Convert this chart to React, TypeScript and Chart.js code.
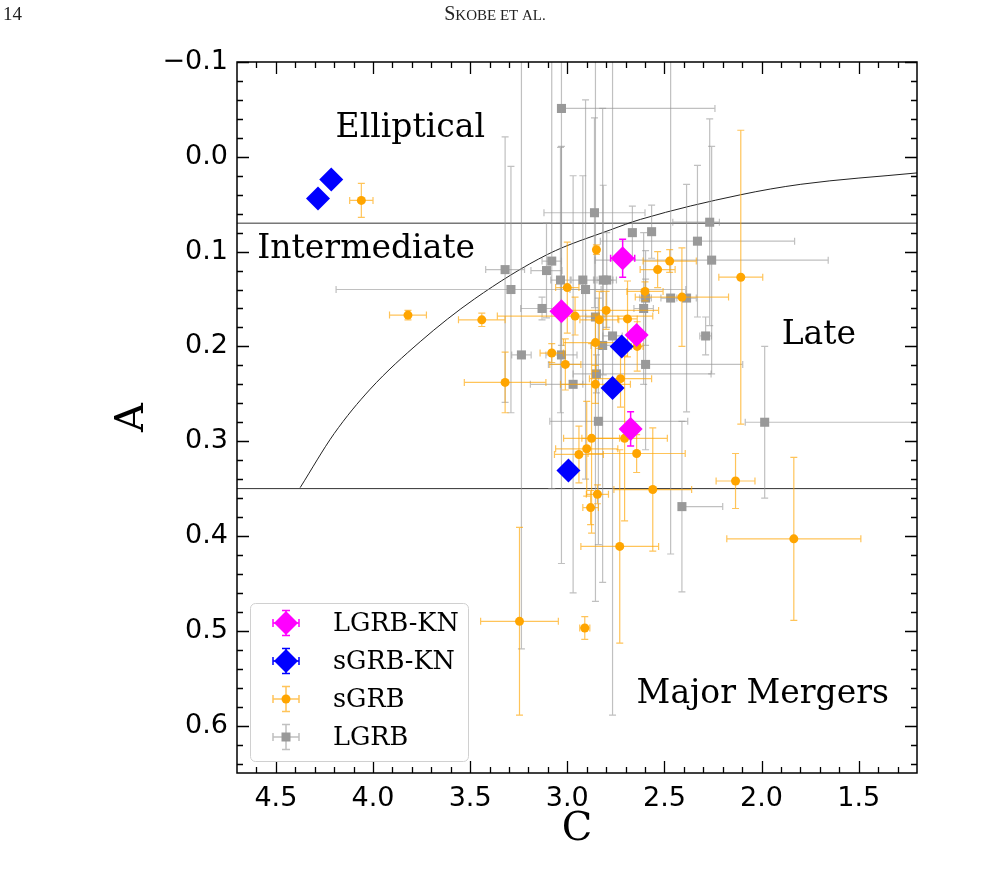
import React, { useEffect, useRef } from 'react';
import { Chart, registerables } from 'chart.js';
Chart.register(...registerables);

type Err = number | [number, number]; // [toward lower value, toward higher value]

// ---------- axis ticks ----------
const xTicks = [4.5, 4.0, 3.5, 3.0, 2.5, 2.0, 1.5];
const xTickLabels = ['4.5', '4.0', '3.5', '3.0', '2.5', '2.0', '1.5'];
const xMinorTicks = [4.6, 4.4, 4.3, 4.2, 4.1, 3.9, 3.8, 3.7, 3.6, 3.4, 3.3, 3.2, 3.1, 2.9, 2.8, 2.7, 2.6, 2.4, 2.3, 2.2, 2.1, 1.9, 1.8, 1.7, 1.6, 1.4, 1.3];
const yTicks = [-0.1, 0.0, 0.1, 0.2, 0.3, 0.4, 0.5, 0.6];
const yTickLabels = ['\u22120.1', '0.0', '0.1', '0.2', '0.3', '0.4', '0.5', '0.6'];
const yMinorTicks = [-0.08, -0.06, -0.04, -0.02, 0.02, 0.04, 0.06, 0.08, 0.12, 0.14, 0.16, 0.18, 0.22, 0.24, 0.26, 0.28, 0.32, 0.34, 0.36, 0.38, 0.42, 0.44, 0.46, 0.48, 0.52, 0.54, 0.56, 0.58, 0.62, 0.64];

// ---------- dividing lines ----------
const curveC = [4.375, 4.2, 4.014, 3.757, 3.478, 3.102, 2.777, 2.623, 2.107, 1.798, 1.2];
const curveA = [0.349, 0.292, 0.245, 0.195, 0.150, 0.103, 0.077, 0.066, 0.040, 0.029, 0.017];
const lineIntermediateA = 0.07;
const lineMergerA = 0.35;

// ---------- LGRB-KN ----------
const lgrbKnC = [2.715, 3.03, 2.643, 2.674];
const lgrbKnA = [0.107, 0.163, 0.188, 0.287];
const lgrbKnCerr: Err[] = [0.062, 0.02, 0.02, 0.02];
const lgrbKnAerr: Err[] = [0.02, 0.005, 0.005, 0.018];

// ---------- sGRB-KN ----------
const sgrbKnC = [4.283, 4.215, 2.72, 2.767, 2.994];
const sgrbKnA = [0.044, 0.024, 0.2, 0.244, 0.331];
const sgrbKnCerr: Err[] = [0.02, 0.02, 0.02, 0.02, 0.02];
const sgrbKnAerr: Err[] = [0.005, 0.005, 0.005, 0.005, 0.005];

// ---------- sGRB ----------
const sgrbC = [4.06, 3.82, 3.44, 3.32, 3.08, 3.01, 3.0, 2.96, 2.855, 2.85, 2.80, 2.835, 2.69, 2.726, 2.855, 2.875, 2.9, 2.94, 2.705, 2.643, 2.845, 2.88, 2.473, 2.535, 2.107, 2.6, 2.41, 2.134, 2.56, 1.834, 2.73, 3.246, 2.91, 2.64];
const sgrbA = [0.046, 0.167, 0.172, 0.238, 0.207, 0.219, 0.138, 0.168, 0.196, 0.098, 0.162, 0.172, 0.171, 0.234, 0.24, 0.297, 0.308, 0.314, 0.297, 0.313, 0.356, 0.37, 0.110, 0.119, 0.127, 0.142, 0.148, 0.342, 0.351, 0.403, 0.411, 0.49, 0.497, 0.2];
const sgrbCerr: Err[] = [0.06, 0.095, 0.12, 0.21, 0.06, 0.08, 0.06, 0.4, 0.165, 0.01, 0.27, 0.1, 0.05, 0.16, 0.18, 0.144, 0.16, 0.126, 0.22, 0.25, 0.057, 0.04, 0.137, 0.09, 0.113, 0.093, 0.24, 0.1, 0.2, 0.345, 0.2, 0.2, 0.026, 0.03];
const sgrbAerr: Err[] = [0.018, 0.005, 0.007, 0.032, 0.01, 0.027, 0.048, 0.02, 0.03, 0.005, 0.02, 0.03, 0.04, 0.03, 0.02, 0.1, 0.05, 0.03, 0.087, 0.02, 0.01, 0.018, 0.012, 0.019, 0.155, 0.01, 0.052, 0.029, 0.065, 0.086, 0.102, 0.099, 0.012, 0.026];

// ---------- LGRB ----------
const lgrbC = [3.03, 2.86, 2.665, 2.566, 2.267, 2.33, 2.257, 3.32, 3.29, 3.08, 3.107, 3.035, 2.92, 2.906, 2.815, 2.797, 3.13, 2.855, 2.767, 2.818, 3.236, 3.03, 2.85, 2.97, 2.84, 2.597, 2.468, 2.386, 2.607, 2.288, 2.597, 1.984, 2.41];
const lgrbA = [-0.051, 0.059, 0.080, 0.079, 0.069, 0.089, 0.109, 0.119, 0.14, 0.11, 0.12, 0.13, 0.13, 0.14, 0.13, 0.13, 0.16, 0.169, 0.189, 0.199, 0.209, 0.209, 0.229, 0.24, 0.279, 0.149, 0.149, 0.149, 0.16, 0.189, 0.219, 0.28, 0.369];
const lgrbCerr: Err[] = [[0.79, 0], 0.26, 0.015, 0.015, [0.05, 0.19], 0.5, 0.6, 0.1, 0.9, 0.05, 0.08, 0.05, 0.06, 0.08, 0.05, 0.05, 0.11, 0.05, 0.05, 0.06, 0.05, 0.08, [0.59, 0.12], [0.05, 0.22], [0.46, 0.25], 0.03, 0.05, 0.05, 0.05, 0.03, 0.5, [0.8, 0.1], [0.21, 0]];
const lgrbAerr: Err[] = [0.25, 0.1, 0.028, 0.028, 0.109, 0.08, 0.12, 0.14, 0.13, 0.24, 0.05, 0.14, 0.11, 0.2, 0.1, 0.05, 0.012, 0.3, 0.4, 0.25, 0.31, 0.22, 0.02, 0.22, 0.13, 0.05, 0.27, 0.12, 0.08, 0.02, 0.09, 0.08, 0.09];

// ---------- region labels ----------
const regionLabels = ['Elliptical', 'Intermediate', 'Late', 'Major Mergers'];
const regionC = [3.808, 4.035, 1.705, 1.994];
const regionA = [-0.030, 0.098, 0.188, 0.567];

const legendLabels = ['LGRB-KN', 'sGRB-KN', 'sGRB', 'LGRB'];

const MAGENTA = '#ff00ff';
const BLUE = '#0000ff';
const ORANGE = '#ffa500';
const ORANGE_ERR = 'rgba(255,165,0,0.65)';
const GREY = '#999999';
const GREY_ERR = 'rgba(150,150,150,0.6)';

const pts = (xs: number[], ys: number[]) => xs.map((x, i) => ({ x, y: ys[i] }));
const split = (e: Err): [number, number] => (Array.isArray(e) ? e : [e, e]);

const errorBarPlugin = {
  id: 'errorBars',
  beforeDatasetDraw(chart: any, args: any) {
    const ds = chart.data.datasets[args.index];
    if (!ds.errC) return;
    const { ctx, chartArea } = chart;
    const xs = chart.scales.x;
    const ys = chart.scales.y;
    ctx.save();
    ctx.beginPath();
    ctx.rect(chartArea.left, chartArea.top, chartArea.right - chartArea.left, chartArea.bottom - chartArea.top);
    ctx.clip();
    ctx.strokeStyle = ds.errColor;
    ctx.lineWidth = ds.errWidth;
    const cap = 3.5;
    ds.data.forEach((p: any, i: number) => {
      const [cm, cp] = split(ds.errC[i]);
      const [am, ap] = split(ds.errA[i]);
      const px = xs.getPixelForValue(p.x);
      const py = ys.getPixelForValue(p.y);
      const xl = xs.getPixelForValue(p.x + cp);
      const xr = xs.getPixelForValue(p.x - cm);
      const yt = ys.getPixelForValue(p.y - am);
      const yb = ys.getPixelForValue(p.y + ap);
      ctx.beginPath();
      ctx.moveTo(xl, py); ctx.lineTo(xr, py);
      ctx.moveTo(px, yt); ctx.lineTo(px, yb);
      if (cp > 0) { ctx.moveTo(xl, py - cap); ctx.lineTo(xl, py + cap); }
      if (cm > 0) { ctx.moveTo(xr, py - cap); ctx.lineTo(xr, py + cap); }
      if (am > 0) { ctx.moveTo(px - cap, yt); ctx.lineTo(px + cap, yt); }
      if (ap > 0) { ctx.moveTo(px - cap, yb); ctx.lineTo(px + cap, yb); }
      ctx.stroke();
    });
    ctx.restore();
  },
};

const decorPlugin = {
  id: 'decor',
  afterDatasetsDraw(chart: any) {
    const { ctx } = chart;
    const xs = chart.scales.x;
    const ys = chart.scales.y;
    ctx.save();
    ctx.fillStyle = '#000';
    ctx.font = '33px "DejaVu Serif"';
    ctx.textAlign = 'center';
    ctx.textBaseline = 'middle';
    regionLabels.forEach((t, i) => {
      ctx.fillText(t, xs.getPixelForValue(regionC[i]), ys.getPixelForValue(regionA[i]));
    });
    ctx.restore();
  },
  afterDraw(chart: any) {
    const { ctx, chartArea } = chart;
    const { left, right, top, bottom } = chartArea;
    const xs = chart.scales.x;
    const ys = chart.scales.y;
    ctx.save();
    ctx.strokeStyle = '#000';
    ctx.lineWidth = 1.3;
    ctx.beginPath();
    const majorLen = 12, minorLen = 6;
    xTicks.forEach(v => {
      const p = Math.round(xs.getPixelForValue(v)) + 0.5;
      ctx.moveTo(p, bottom); ctx.lineTo(p, bottom - majorLen);
      ctx.moveTo(p, top); ctx.lineTo(p, top + majorLen);
    });
    xMinorTicks.forEach(v => {
      const p = Math.round(xs.getPixelForValue(v)) + 0.5;
      ctx.moveTo(p, bottom); ctx.lineTo(p, bottom - minorLen);
      ctx.moveTo(p, top); ctx.lineTo(p, top + minorLen);
    });
    yTicks.forEach(v => {
      const p = Math.round(ys.getPixelForValue(v)) + 0.5;
      ctx.moveTo(left, p); ctx.lineTo(left + majorLen, p);
      ctx.moveTo(right, p); ctx.lineTo(right - majorLen, p);
    });
    yMinorTicks.forEach(v => {
      const p = Math.round(ys.getPixelForValue(v)) + 0.5;
      ctx.moveTo(left, p); ctx.lineTo(left + minorLen, p);
      ctx.moveTo(right, p); ctx.lineTo(right - minorLen, p);
    });
    ctx.stroke();
    ctx.lineWidth = 1.5;
    ctx.strokeRect(left, top, right - left, bottom - top);

    // axis titles
    ctx.fillStyle = '#000';
    ctx.font = '40px "DejaVu Serif"';
    ctx.textAlign = 'center';
    ctx.textBaseline = 'middle';
    ctx.fillText('C', (left + right) / 2, 830);
    ctx.save();
    ctx.translate(133, (top + bottom) / 2);
    ctx.rotate(-Math.PI / 2);
    ctx.fillText('A', 0, 0);
    ctx.restore();

    // legend
    const lx = 250, ly = 603, lw = 218, lh = 158;
    ctx.save();
    ctx.fillStyle = 'rgba(255,255,255,0.8)';
    ctx.strokeStyle = '#d0d0d0';
    ctx.lineWidth = 1;
    ctx.beginPath();
    ctx.roundRect(lx + 0.5, ly + 0.5, lw, lh, 5);
    ctx.fill();
    ctx.stroke();
    ctx.restore();
    const rowY = [623, 661, 699, 737];
    const mx = 286;
    const styles = [
      { err: MAGENTA, fill: MAGENTA, shape: 'diamond' },
      { err: BLUE, fill: BLUE, shape: 'diamond' },
      { err: ORANGE_ERR, fill: ORANGE, shape: 'circle' },
      { err: GREY_ERR, fill: GREY, shape: 'square' },
    ];
    styles.forEach((s, i) => {
      const y = rowY[i];
      ctx.strokeStyle = s.err;
      ctx.lineWidth = 1.5;
      ctx.beginPath();
      ctx.moveTo(mx - 13, y); ctx.lineTo(mx + 13, y);
      ctx.moveTo(mx, y - 12.5); ctx.lineTo(mx, y + 12.5);
      ctx.moveTo(mx - 13, y - 4); ctx.lineTo(mx - 13, y + 4);
      ctx.moveTo(mx + 13, y - 4); ctx.lineTo(mx + 13, y + 4);
      ctx.moveTo(mx - 4, y - 12.5); ctx.lineTo(mx + 4, y - 12.5);
      ctx.moveTo(mx - 4, y + 12.5); ctx.lineTo(mx + 4, y + 12.5);
      ctx.stroke();
      ctx.fillStyle = s.fill;
      ctx.beginPath();
      if (s.shape === 'diamond') {
        ctx.moveTo(mx, y - 12); ctx.lineTo(mx + 12, y); ctx.lineTo(mx, y + 12); ctx.lineTo(mx - 12, y); ctx.closePath();
      } else if (s.shape === 'circle') {
        ctx.arc(mx, y, 4.5, 0, Math.PI * 2);
      } else {
        ctx.rect(mx - 4.5, y - 4.5, 9, 9);
      }
      ctx.fill();
      ctx.fillStyle = '#000';
      ctx.font = '25.5px "DejaVu Serif"';
      ctx.textAlign = 'left';
      ctx.textBaseline = 'middle';
      ctx.fillText(legendLabels[i], 333, y + 1);
    });

    // page header
    ctx.fillStyle = '#222';
    ctx.textBaseline = 'alphabetic';
    ctx.textAlign = 'left';
    ctx.font = '19px "Liberation Serif"';
    ctx.fillText('14', 3, 20);
    const big = 'S', small = 'KOBE ET AL.';
    ctx.font = '20px "Liberation Serif"';
    const wb = ctx.measureText(big).width;
    ctx.font = '15px "Liberation Serif"';
    const ws = ctx.measureText(small).width;
    const sx = 495 - (wb + ws) / 2;
    ctx.font = '20px "Liberation Serif"';
    ctx.fillText(big, sx, 20);
    ctx.font = '15px "Liberation Serif"';
    ctx.fillText(small, sx + wb, 20);
    ctx.restore();
  },
};

export default function App() {
  const ref = useRef<HTMLCanvasElement | null>(null);
  useEffect(() => {
    document.body.style.margin = '0';
    const canvas = ref.current;
    if (!canvas) return;
    const chart = new Chart(canvas, {
      type: 'scatter',
      data: {
        datasets: [
          {
            label: 'sGRB-KN',
            data: pts(sgrbKnC, sgrbKnA),
            pointStyle: 'rectRot',
            pointRadius: 12,
            backgroundColor: BLUE,
            borderColor: BLUE,
            borderWidth: 0,
            errC: sgrbKnCerr, errA: sgrbKnAerr, errColor: BLUE, errWidth: 1.5,
          } as any,
          {
            label: 'LGRB-KN',
            data: pts(lgrbKnC, lgrbKnA),
            pointStyle: 'rectRot',
            pointRadius: 12,
            backgroundColor: MAGENTA,
            borderColor: MAGENTA,
            borderWidth: 0,
            errC: lgrbKnCerr, errA: lgrbKnAerr, errColor: MAGENTA, errWidth: 1.5,
          } as any,
          {
            label: 'sGRB',
            data: pts(sgrbC, sgrbA),
            pointStyle: 'circle',
            pointRadius: 4.5,
            backgroundColor: ORANGE,
            borderColor: ORANGE,
            borderWidth: 0,
            errC: sgrbCerr, errA: sgrbAerr, errColor: ORANGE_ERR, errWidth: 1.2,
          } as any,
          {
            label: 'LGRB',
            data: pts(lgrbC, lgrbA),
            pointStyle: 'rect',
            pointRadius: 6.4,
            backgroundColor: GREY,
            borderColor: GREY,
            borderWidth: 0,
            errC: lgrbCerr, errA: lgrbAerr, errColor: GREY_ERR, errWidth: 1.2,
          } as any,
          {
            type: 'line',
            label: 'curve',
            data: pts(curveC, curveA),
            borderColor: '#222',
            borderWidth: 1,
            pointRadius: 0,
            cubicInterpolationMode: 'monotone',
            fill: false,
          } as any,
          {
            type: 'line',
            label: 'A=0.07',
            data: [{ x: 4.7, y: lineIntermediateA }, { x: 1.2, y: lineIntermediateA }],
            borderColor: '#333',
            borderWidth: 1,
            pointRadius: 0,
          } as any,
          {
            type: 'line',
            label: 'A=0.35',
            data: [{ x: 4.7, y: lineMergerA }, { x: 1.2, y: lineMergerA }],
            borderColor: '#333',
            borderWidth: 1,
            pointRadius: 0,
          } as any,
        ],
      },
      options: {
        responsive: false,
        animation: false,
        devicePixelRatio: 1,
        layout: { padding: { left: 0, top: 62, right: 74, bottom: 0 } },
        plugins: { legend: { display: false }, tooltip: { enabled: false } },
        scales: {
          x: {
            type: 'linear',
            reverse: true,
            min: 1.2,
            max: 4.7,
            afterBuildTicks: (s: any) => { s.ticks = xTicks.map(v => ({ value: v })); },
            afterFit: (s: any) => { s.height = 105; },
            grid: { display: false, drawTicks: false },
            border: { display: false },
            ticks: {
              autoSkip: false,
              maxRotation: 0,
              padding: 10,
              color: '#000',
              font: { family: 'DejaVu Sans', size: 27 },
              callback: (_v: any, i: number) => xTickLabels[i],
            },
          },
          y: {
            type: 'linear',
            reverse: true,
            min: -0.1,
            max: 0.65,
            afterBuildTicks: (s: any) => { s.ticks = yTicks.map(v => ({ value: v })); },
            afterFit: (s: any) => { s.width = 237; },
            grid: { display: false, drawTicks: false },
            border: { display: false },
            ticks: {
              autoSkip: false,
              padding: 9,
              color: '#000',
              font: { family: 'DejaVu Sans', size: 27 },
              callback: (_v: any, i: number) => yTickLabels[i],
            },
          },
        },
      },
      plugins: [errorBarPlugin, decorPlugin],
    } as any);
    return () => chart.destroy();
  }, []);
  return <canvas ref={ref} width={991} height={878} style={{ display: 'block', width: 991, height: 878 }} />;
}
